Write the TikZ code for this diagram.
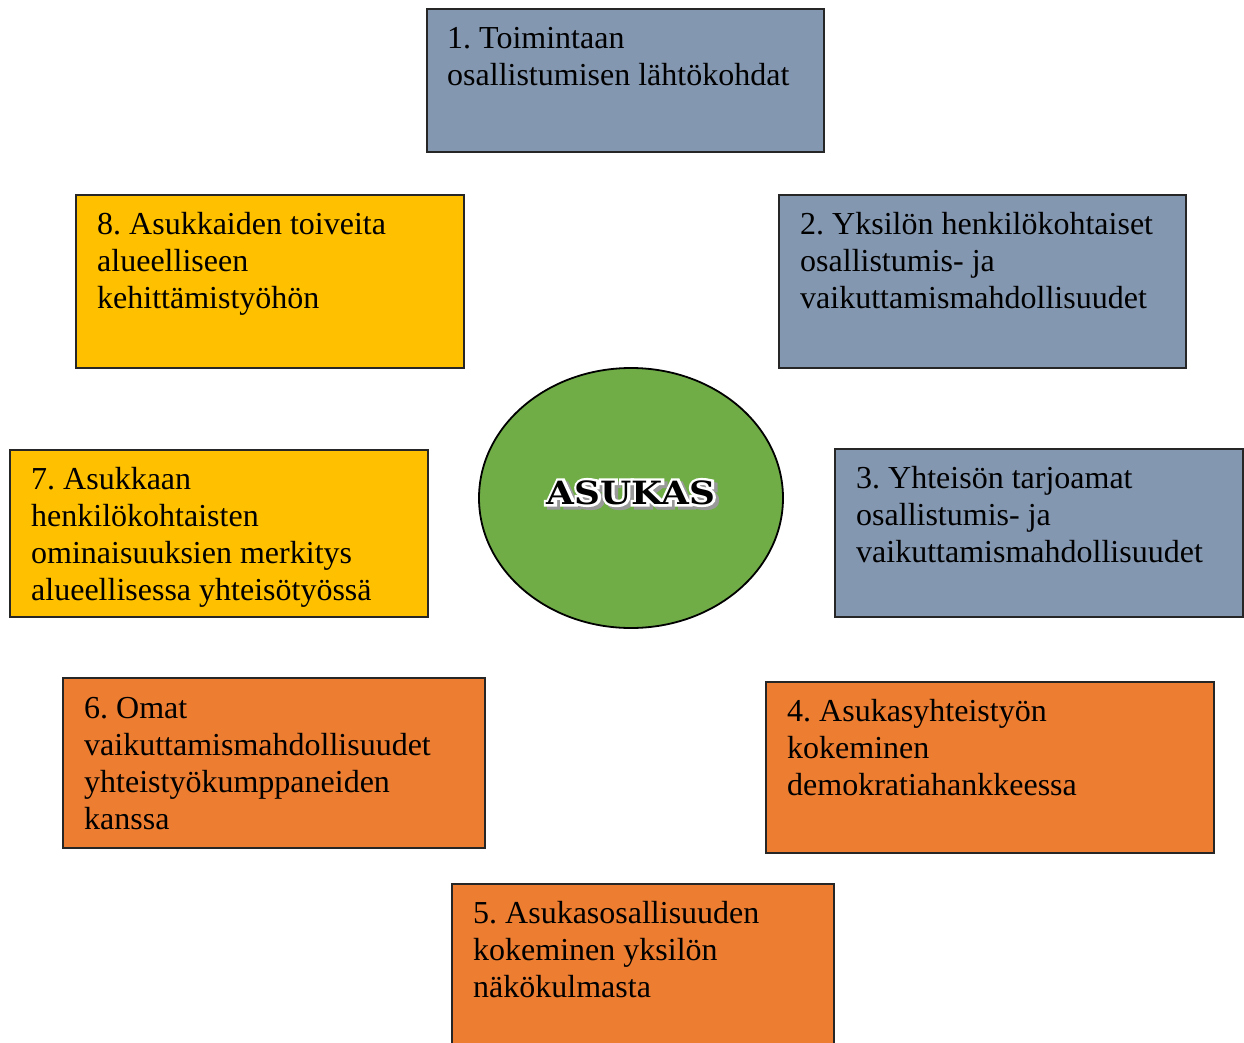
\documentclass[tikz,border=0pt]{standalone}
\usepackage{fontspec}
\setmainfont{Liberation Serif}
\newfontfamily\asufont{DejaVu Serif}
\frenchspacing
\definecolor{bgray}{HTML}{8497B0}
\definecolor{yel}{HTML}{FFC000}
\definecolor{ora}{HTML}{ED7D31}
\definecolor{grn}{HTML}{70AD47}
\newcommand{\ltext}[1]{\begin{tabular}[t]{@{}l@{}}#1\end{tabular}}
\newcommand{\strokedword}[2]{\special{pdf:literal direct #1 w 2 Tr}#2\special{pdf:literal direct 0 Tr}}
\newcommand{\outlinedword}[1]{%
  \makebox[0pt][l]{\hspace{3bp}\raisebox{-3bp}{\color{black!40}\strokedword{5}{#1}}}%
  \makebox[0pt][l]{\color{white}\strokedword{5}{#1}}%
  {\color{black}#1}}
\tikzset{
  boxst/.style={draw=black!85, line width=1.2bp},
  txt/.style={anchor=base west, inner sep=0pt, font=\fontsize{32bp}{37bp}\selectfont},
  asu/.style={inner sep=0pt, font=\asufont\bfseries\fontsize{32bp}{32bp}\selectfont, xscale=1.12}
}
\begin{document}
\begin{tikzpicture}[x=1bp,y=-1bp]
\useasboundingbox (0,0) rectangle (1244,1043);
% boxes
\draw[boxst, fill=bgray] (427,9) rectangle (824,152);
\draw[boxst, fill=bgray] (779,195) rectangle (1186,368);
\draw[boxst, fill=bgray] (835,449) rectangle (1243,617);
\draw[boxst, fill=ora] (766,682) rectangle (1214,853);
\draw[boxst, fill=ora] (452,884) rectangle (834,1060);
\draw[boxst, fill=ora] (63,678) rectangle (485,848);
\draw[boxst, fill=yel] (10,450) rectangle (428,617);
\draw[boxst, fill=yel] (76,195) rectangle (464,368);
% texts
\node[txt] (t1) at (447,48) {\ltext{1. Toimintaan\\osallistumisen lähtökohdat}};
\node[txt] (t2) at (800,234) {\ltext{2. Yksilön henkilökohtaiset\\osallistumis- ja\\vaikuttamismahdollisuudet}};
\node[txt] (t3) at (856,488) {\ltext{3. Yhteisön tarjoamat\\osallistumis- ja\\vaikuttamismahdollisuudet}};
\node[txt] (t4) at (787,721) {\ltext{4. Asukasyhteistyön\\kokeminen\\demokratiahankkeessa}};
\node[txt] (t5) at (473,923) {\ltext{5. Asukasosallisuuden\\kokeminen yksilön\\näkökulmasta}};
\node[txt] (t6) at (84,718) {\ltext{6. Omat\\vaikuttamismahdollisuudet\\yhteistyökumppaneiden\\kanssa}};
\node[txt] (t7) at (31,489) {\ltext{7. Asukkaan\\henkilökohtaisten\\ominaisuuksien merkitys\\alueellisessa yhteisötyössä}};
\node[txt] (t8) at (97,234) {\ltext{8. Asukkaiden toiveita\\alueelliseen\\kehittämistyöhön}};
% circle
\draw[line width=1.8bp, fill=grn] (631,498) ellipse [x radius=152, y radius=130];
% ASUKAS with outline and shadow
\node[asu] (asukas) at (631,494) {\outlinedword{ASUKAS}};
\end{tikzpicture}
\end{document}
